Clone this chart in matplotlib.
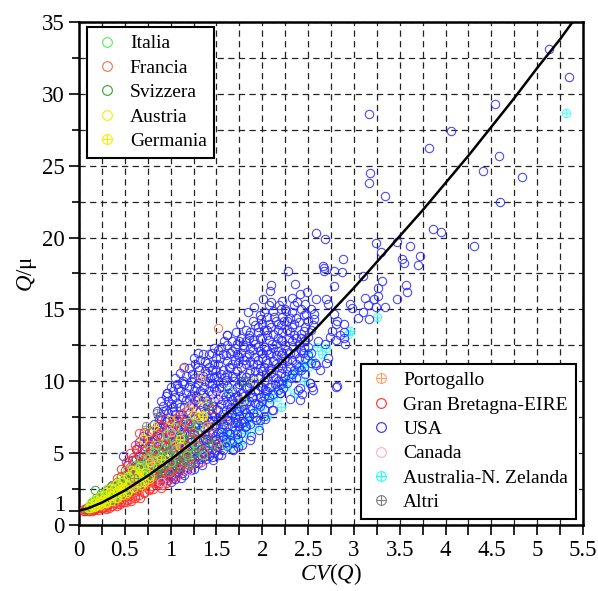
import matplotlib
matplotlib.use("Agg")
import matplotlib.pyplot as plt
from matplotlib.lines import Line2D
from matplotlib.ticker import MultipleLocator

plt.rcParams['font.family'] = ['Liberation Serif', 'DejaVu Serif']
plt.rcParams['mathtext.fontset'] = 'custom'
plt.rcParams['mathtext.rm'] = 'Liberation Serif'
plt.rcParams['mathtext.it'] = 'Liberation Serif:italic'

# ---- curva di riferimento ----
curve_cv = [0, 0.1, 0.25, 0.5, 0.75, 1.0, 1.25, 1.5, 1.75, 2.0, 2.25, 2.5, 2.75, 3.0,
            3.25, 3.5, 3.75, 4.0, 4.25, 4.5, 4.75, 5.0, 5.25, 5.5]
curve_q = [1.0, 1.16, 1.56, 2.4, 3.42, 4.56, 5.8, 7.1, 8.54, 10.0, 11.55, 13.1, 14.8, 16.5,
           18.3, 20.1, 21.9, 23.8, 25.7, 27.7, 29.7, 31.8, 33.8, 36.0]

# ---- punti per paese (CV, Q/mu) ----
usa = [(0.48,4.8),(0.52,4.2),(0.55,3.6),(0.58,4.5),(0.62,5.3),(0.6,3.2),(0.65,4.0),(0.66,5.8),
       (0.68,3.5),(0.7,4.8),(0.7,6.2),(0.72,5.5),(0.55,2.9),(0.63,2.7),
       (0.75,4.2),(0.76,6.5),(0.78,5.0),(0.8,3.6),(0.8,5.8),(0.82,7.0),(0.83,4.5),(0.85,6.2),
       (0.86,3.2),(0.87,5.3),(0.88,7.6),(0.9,4.0),(0.9,6.8),(0.92,8.3),(0.93,5.6),(0.94,3.5),
       (0.95,7.2),(0.96,9.2),(0.97,4.7),(0.98,6.3),
       (1.0,3.0),(1.0,5.2),(1.01,7.9),(1.02,8.8),(1.03,6.0),(1.04,4.2),(1.05,7.0),(1.06,3.6),
       (1.07,5.5),(1.08,9.5),(1.09,6.6),(1.1,4.8),(1.1,8.2),(1.11,3.3),(1.12,7.4),(1.13,5.9),
       (1.14,10.0),(1.15,4.4),(1.16,6.9),(1.17,8.7),(1.18,3.8),(1.19,5.2),(1.2,7.8),(1.2,9.6),
       (1.21,6.3),(1.22,4.6),
       (1.23,10.5),(1.24,8.2),(1.25,5.6),(1.26,3.9),(1.27,7.1),(1.28,9.0),(1.29,4.8),(1.3,6.4),
       (1.3,12.0),(1.31,10.8),(1.32,8.0),(1.33,5.3),(1.34,4.2),(1.35,7.4),(1.36,9.6),(1.37,6.0),
       (1.38,11.4),(1.39,4.6),(1.4,8.6),(1.41,6.8),(1.42,5.0),(1.43,10.2),(1.44,7.7),(1.45,9.1),
       (1.46,4.5),(1.47,12.3),(1.48,6.2),(1.49,8.1),(1.5,10.8),(1.51,5.4),(1.52,7.3),(1.53,9.5),
       (1.54,11.6),(1.55,4.9),(1.56,6.7),(1.57,8.7),(1.58,12.8),(1.59,10.3),(1.6,5.8),(1.61,13.2),
       (1.62,7.6),(1.63,9.2),(1.64,11.0),(1.65,6.3),(1.66,8.2),(1.67,12.1),(1.68,5.3),(1.69,10.0),
       (1.7,7.1),
       (1.71,13.4),(1.72,9.0),(1.73,6.0),(1.74,11.3),(1.75,7.9),(1.76,14.0),(1.77,10.4),(1.78,5.6),
       (1.79,12.5),(1.8,8.6),(1.81,6.8),(1.82,11.7),(1.83,9.6),(1.84,14.8),(1.85,7.5),(1.86,13.0),
       (1.87,10.8),(1.88,6.2),(1.89,8.9),(1.9,12.2),(1.91,15.2),(1.92,9.8),(1.93,7.3),(1.94,11.2),
       (1.95,13.8),
       (1.96,6.6),(1.97,8.3),(1.98,10.4),(1.99,14.3),(2.0,12.0),(2.01,15.7),(2.02,7.6),(2.03,9.4),
       (2.04,11.5),(2.05,13.2),(2.07,8.5),(2.08,16.3),(2.09,10.6),(2.1,16.7),(2.11,12.6),(2.12,8.0),
       (2.13,14.5),(2.14,9.8),(2.15,11.8),(2.17,13.6),(2.18,15.3),(2.19,9.2),(2.2,15.0),(2.21,10.9),
       (2.22,12.8),(2.23,9.5),(2.24,14.2),
       (2.26,14.9),(2.27,11.4),(2.28,17.7),(2.29,13.0),(2.3,8.8),(2.31,10.2),(2.32,15.8),(2.33,12.4),
       (2.35,14.0),(2.36,16.8),(2.38,15.5),(2.39,9.4),(2.4,11.0),(2.41,16.1),(2.41,8.7),(2.42,13.3),
       (2.44,12.0),(2.45,14.6),(2.47,10.5),(2.48,14.7),(2.49,16.2),(2.5,12.4),(2.52,9.9),(2.53,13.6),
       (2.55,13.9),(2.56,14.7),(2.57,14.3),(2.58,11.3),(2.59,15.7),(2.59,20.3),(2.59,11.1),
       (2.61,12.8),(2.63,10.8),(2.66,18.0),(2.67,17.7),(2.67,17.9),(2.68,19.9),(2.69,12.6),(2.7,15.7),
       (2.7,11.25),(2.72,15.4),(2.72,11.6),(2.74,13.1),(2.76,13.5),(2.78,16.6),(2.78,17.7),(2.78,14.7),
       (2.81,12.9),(2.81,14.0),(2.82,14.2),(2.82,9.7),(2.81,9.6),(2.85,13.2),(2.87,17.6),(2.88,18.5),
       (2.89,14.0),(2.89,13.4),(2.89,13.0),(2.9,12.6),(2.96,15.4),(2.98,15.1),(2.54,9.6),(2.55,9.4),
       (3.05,14.4),(3.1,14.8),(3.1,17.3),(3.12,15.8),(3.15,15.3),(3.16,14.3),(3.16,28.6),(3.17,23.8),
       (3.18,24.5),(3.22,15.7),(3.24,15.2),(3.24,19.6),(3.26,16.5),(3.26,15.9),(3.3,19.0),(3.31,17.0),
       (3.34,22.9),(3.34,15.2),(3.47,15.7),(3.47,19.7),(3.52,18.5),(3.55,18.2),(3.57,16.7),(3.58,16.2),
       (3.61,19.4),(3.7,18.1),(3.72,18.7),(3.82,26.2),(3.86,20.6),(3.95,20.4),(4.06,27.4),(4.31,19.4),
       (4.41,24.6),(4.54,29.3),(4.58,25.7),(4.59,22.5),(4.83,24.2),(5.13,33.1),(5.35,31.2),
       (1.61,13.2),(0.96,9.16),(2.52,9.86),(2.19,9.2),(2.11,8.0),(2.03,7.4),(1.87,5.9),(1.74,5.45),
       (1.68,5.2),(2.41,9.5),(2.43,9.1),
       (0.58,3.9),(0.62,4.6),(0.66,4.8),(0.69,5.3),(0.73,4.3),(0.74,6.0),(0.77,5.5),(0.79,6.4)]

# nucleo denso USA: colonne CV -> valori Q/mu
usa_core = [(0.82, [3.3, 4.9, 6.0]), (0.87, [2.9, 4.4, 6.6, 7.3]),
            (0.92, [3.4, 4.6, 5.2, 7.0, 7.9]), (0.97, [3.1, 4.1, 5.0, 6.0, 7.8, 8.6]),
            (1.03, [3.3, 4.5, 5.1, 6.5, 7.4, 8.2, 9.3]), (1.07, [3.9, 4.6, 6.1, 6.9, 8.5, 9.8]),
            (1.12, [3.6, 4.2, 5.4, 6.3, 7.0, 8.9, 9.9]), (1.17, [4.0, 4.9, 5.6, 7.3, 7.9, 9.2, 10.4]),
            (1.22, [3.8, 5.0, 5.8, 6.7, 8.4, 9.0, 10.0]),
            (1.27, [4.3, 5.2, 6.0, 6.8, 7.6, 8.7, 9.6, 11.2]),
            (1.32, [4.6, 5.6, 6.6, 7.3, 8.4, 9.3, 10.2, 11.5]),
            (1.37, [4.8, 5.4, 6.3, 7.8, 8.9, 10.0, 10.7]),
            (1.42, [4.8, 5.7, 6.5, 7.2, 8.0, 9.3, 9.9, 11.0, 11.9]),
            (1.47, [5.0, 5.9, 6.9, 7.6, 8.6, 9.5, 10.3, 11.2]),
            (1.52, [4.9, 5.7, 6.4, 8.0, 8.8, 10.0, 11.2, 12.2]),
            (1.57, [5.2, 6.2, 7.0, 7.7, 9.1, 9.9, 10.8, 11.9]),
            (1.62, [5.5, 6.5, 7.3, 8.4, 9.7, 10.5, 11.4, 12.5]),
            (1.67, [5.7, 6.9, 7.7, 8.7, 9.3, 10.4, 11.2, 12.8]),
            (1.72, [6.3, 7.2, 7.9, 8.5, 9.6, 10.7, 11.9, 12.6]),
            (1.77, [6.4, 7.1, 8.2, 9.2, 10.0, 11.0, 12.0, 13.0]),
            (1.82, [6.9, 7.8, 8.4, 9.5, 10.3, 11.2, 12.8, 13.6]),
            (1.87, [7.0, 8.1, 9.2, 9.9, 11.4, 12.3, 13.4]),
            (1.92, [7.5, 8.5, 9.3, 10.7, 11.7, 12.6, 13.9]),
            (1.97, [7.3, 8.9, 9.7, 10.9, 12.1, 13.0, 14.6]),
            (2.02, [8.1, 9.0, 10.0, 11.0, 12.4, 13.6, 14.8]),
            (2.07, [8.9, 9.6, 10.8, 11.9, 12.9, 14.0, 15.3]),
            (2.12, [9.1, 10.3, 11.4, 12.3, 13.3, 14.9]),
            (2.17, [9.4, 10.0, 11.0, 12.1, 13.0, 14.0]),
            (2.22, [10.0, 11.3, 12.0, 13.4, 14.5, 15.6]),
            (2.27, [9.9, 10.7, 12.2, 13.6, 14.2]),
            (2.32, [10.5, 11.5, 12.8, 13.8, 14.8]),
            (2.37, [10.2, 11.2, 12.0, 13.0, 14.4]),
            (2.42, [10.8, 12.2, 13.0, 15.0]),
            (2.47, [11.6, 12.9, 13.8, 15.4]),
            (2.53, [11.3, 12.0, 15.0])]
usa_core2 = [(0.85, [3.0, 5.5, 6.9, 7.9]), (0.9, [3.6, 5.1, 6.1, 7.3, 8.6]),
             (0.95, [3.3, 4.4, 5.4, 6.6, 8.0, 9.0]), (1.0, [3.4, 4.0, 6.2, 7.0, 8.4, 9.6]),
             (1.05, [3.2, 4.9, 5.8, 7.7, 8.9, 10.2]), (1.1, [3.9, 5.8, 7.7, 9.3, 10.6]),
             (1.15, [3.5, 5.3, 6.4, 8.2, 9.8, 11.0]), (1.2, [4.2, 5.5, 7.1, 8.8, 10.9]),
             (1.25, [4.6, 6.3, 7.4, 9.3, 10.2, 11.6]), (1.3, [4.3, 5.8, 7.0, 8.9, 9.9, 11.0]),
             (1.35, [5.0, 5.9, 6.8, 8.2, 9.2, 10.4, 11.9]),
             (1.4, [5.2, 6.0, 7.5, 8.4, 10.6, 11.3]),
             (1.45, [4.7, 6.4, 7.3, 8.3, 9.9, 10.8, 12.0]),
             (1.5, [5.2, 6.0, 7.0, 9.3, 10.4, 11.6]),
             (1.55, [5.6, 6.5, 7.4, 8.4, 9.6, 10.5, 12.4]),
             (1.6, [6.0, 6.9, 8.0, 9.0, 10.1, 11.8]), (1.65, [5.9, 7.3, 8.1, 9.0, 10.9, 12.0]),
             (1.7, [6.6, 7.5, 8.9, 10.3, 11.5, 12.3]), (1.75, [6.9, 7.6, 8.8, 9.8, 11.7, 12.8]),
             (1.8, [7.2, 8.1, 9.0, 10.0, 11.5, 12.4]), (1.85, [7.6, 8.6, 9.6, 10.6, 11.9, 13.2]),
             (1.9, [7.8, 8.9, 10.2, 11.2, 12.9, 14.2]), (1.95, [8.4, 9.4, 10.2, 11.5, 12.4, 13.4]),
             (2.0, [8.6, 9.6, 10.7, 11.6, 13.0, 14.0]), (2.05, [9.3, 10.3, 11.3, 12.2, 13.6, 14.5]),
             (2.1, [9.6, 10.9, 12.0, 13.8, 15.5]), (2.15, [10.2, 11.2, 12.6, 14.2]),
             (2.2, [9.8, 10.6, 11.8, 12.9, 13.9]), (2.25, [10.4, 11.6, 12.5, 15.0]),
             (2.3, [11.0, 12.0, 13.4, 14.4]), (2.35, [10.8, 11.9, 13.2, 15.3]),
             (2.4, [11.6, 12.6, 14.1]), (2.45, [11.0, 12.4, 13.5]), (2.5, [11.8, 13.1, 14.2])]

australia = [(1.15,4.5),(1.3,4.8),(1.45,5.3),(1.55,5.6),(1.62,6.2),(1.65,5.4),(1.7,6.8),
             (1.72,5.7),(1.76,5.7),(1.8,6.4),(1.85,7.2),(1.87,6.5),(1.9,7.8),(1.95,6.9),
             (2.0,8.3),(2.05,7.6),(2.1,8.8),(2.16,8.9),(2.2,8.2),(2.25,9.6),(2.3,10.3),(2.35,9.2),
             (2.4,10.8),(2.45,10.0),(2.54,11.5),(2.6,12.4),(2.65,11.9),(2.7,12.3),(2.94,13.3),
             (2.96,13.5),(3.25,14.5),(5.32,28.7),(1.4,6.0),(1.55,7.0),(1.75,8.0)]
australia_core = [(1.28, [5.0]), (1.38, [5.4]), (1.48, [5.9]), (1.58, [6.4]), (1.68, [6.2, 7.4]),
                  (1.78, [6.9]), (1.83, [7.6, 8.6]), (1.93, [8.1]), (2.03, [8.9]),
                  (2.13, [9.4]), (2.23, [9.9]), (2.33, [10.6]), (2.43, [11.2]), (2.5, [11.0, 12.0])]

gb = [(0.05,1.0),(0.07,1.05),(0.08,1.15),(0.1,0.95),(0.1,1.2),(0.12,1.1),(0.13,1.3),(0.14,1.0),
      (0.15,1.25),(0.16,1.45),(0.17,1.1),(0.18,1.35),(0.19,1.6),(0.2,1.2),(0.21,1.05),(0.22,1.5),
      (0.23,1.3),(0.24,1.75),(0.25,1.15),(0.26,1.45),(0.27,1.9),(0.28,1.25),(0.29,1.6),(0.3,1.1),
      (0.31,1.4),(0.32,2.1),(0.33,1.2),(0.34,1.75),(0.35,2.4),(0.36,1.35),(0.37,1.95),(0.38,2.7),
      (0.39,1.5),(0.4,2.2),(0.41,1.3),(0.42,3.0),(0.43,1.7),(0.44,2.5),(0.45,1.45),(0.46,3.4),
      (0.47,2.0),(0.48,2.8),(0.49,1.6),(0.5,3.8),(0.51,2.3),(0.52,1.75),(0.53,3.1),(0.54,4.2),
      (0.55,2.0),(0.56,2.7),(0.57,1.7),(0.58,3.5),(0.59,4.7),(0.6,2.3),
      (0.61,1.9),(0.62,3.0),(0.63,5.3),(0.64,3.8),(0.65,6.4),(0.66,2.5),(0.67,1.9),(0.68,4.4),
      (0.69,3.3),(0.7,5.7),(0.71,2.2),(0.72,2.8),(0.73,4.9),(0.74,3.6),(0.75,6.0),(0.76,2.4),
      (0.77,4.1),(0.78,3.1),(0.79,5.2),(0.8,2.7),(0.81,6.6),(0.82,3.7),(0.83,4.6),(0.84,2.9),
      (0.85,5.7),(0.86,3.4),(0.87,7.0),(0.88,4.3),(0.89,2.6),(0.9,5.0),
      (0.91,3.2),(0.92,6.1),(0.93,4.0),(0.94,7.4),(0.95,2.9),(0.96,5.4),(0.97,3.7),(0.98,6.7),
      (1.0,4.5),(1.01,3.3),(1.02,5.9),(1.04,7.1),(1.05,4.0),(1.07,6.3),(1.08,3.6),(1.1,5.1),
      (1.12,7.7),(1.13,4.4),(1.15,6.0),(1.17,3.9),(1.19,5.4),(1.21,7.0),(1.23,4.8),(1.25,6.4),
      (1.28,8.0),(1.3,5.6),(1.33,4.4),(1.35,7.3),(1.38,5.0),(1.4,6.2),(1.45,8.1),(1.5,5.5)]
gb_core = [(0.06, [0.95, 1.1]), (0.11, [1.0, 1.15, 1.35]), (0.16, [1.05, 1.2, 1.6]),
           (0.21, [1.15, 1.35, 1.8]), (0.26, [1.2, 1.55, 2.1]), (0.31, [1.25, 1.6, 1.9, 2.4]),
           (0.36, [1.5, 1.75, 2.2, 2.8]), (0.41, [1.45, 1.9, 2.4, 3.3]),
           (0.46, [1.6, 1.8, 2.6, 3.9]), (0.51, [1.6, 2.0, 2.7, 3.5, 4.4]),
           (0.56, [1.8, 2.3, 3.2, 4.0, 5.0]), (0.61, [2.0, 2.5, 3.5, 4.5, 5.6]),
           (0.66, [2.1, 2.8, 3.4, 4.9, 5.5]), (0.71, [2.3, 3.0, 4.0, 4.6, 6.5]),
           (0.76, [2.5, 3.3, 3.9, 5.0, 5.6]), (0.81, [2.5, 3.1, 4.2, 5.3, 6.0]),
           (0.86, [2.8, 3.9, 4.7, 6.3]), (0.91, [2.8, 3.6, 4.5, 5.6, 6.9]),
           (0.96, [3.1, 4.2, 5.0, 6.1]), (1.01, [3.9, 5.3, 6.6]), (1.06, [3.4, 4.6, 5.8, 7.4]),
           (1.11, [4.1, 5.6, 6.7]), (1.16, [4.6, 5.2, 7.2]), (1.21, [4.2, 6.0, 6.8])]

francia = [(0.3,1.5),(0.4,2.0),(0.45,2.6),(0.5,2.1),(0.55,3.3),(0.6,2.6),(0.65,3.5),(0.7,4.2),
           (0.72,3.0),(0.78,4.8),(0.8,3.4),(0.85,4.0),(0.9,5.5),(0.95,4.3),(1.0,6.0),(1.05,5.0),
           (1.1,6.8),(1.15,5.5),(1.2,4.6),(1.25,7.5),(1.3,6.3),(1.35,5.2),(1.4,8.5),(1.45,6.9),
           (1.5,5.8),(1.14,10.9),(1.52,13.7),(0.25,1.35),(0.35,1.8),(1.6,7.2)]
francia_core = [(0.38, [1.6, 2.3]), (0.48, [1.9, 3.0]), (0.58, [2.3, 3.9]), (0.68, [2.6, 4.6]),
                (0.76, [3.0, 5.6]), (0.88, [3.3, 6.2]), (0.98, [3.7, 6.9]), (1.08, [4.3, 7.6]),
                (1.18, [5.0, 8.0]), (1.28, [5.5, 8.8])]

svizzera = [(0.08,1.1),(0.12,1.25),(0.17,1.5),(0.175,2.4),(0.21,1.65),(0.25,1.9),(0.28,1.55),
            (0.32,2.2),(0.35,2.7),(0.38,2.05),(0.42,2.4),(0.45,2.9),(0.48,2.2),(0.52,3.0),
            (0.55,3.5),(0.58,2.5),(0.62,3.3),(0.66,3.9),(0.7,3.0),(0.75,3.5),(0.8,4.4),(0.85,3.6),
            (0.9,4.2),(0.95,5.0),(1.0,3.9),(1.05,4.7),(1.1,4.1),(1.15,5.0),(1.22,4.3),(1.3,5.3),
            (1.45,5.6),(1.2,5.9),(1.42,8.3),(1.8,10.0)]
svizzera_core = [(0.14, [1.35, 1.6]), (0.19, [1.45, 1.9]), (0.24, [1.6, 2.2]), (0.3, [1.8, 2.0]),
                 (0.37, [1.8, 2.4]), (0.43, [2.2, 2.7]), (0.5, [2.4, 3.3]), (0.57, [2.9, 3.2]),
                 (0.64, [2.8, 4.1]), (0.72, [3.3, 4.0]), (0.82, [3.6, 4.7]), (0.92, [3.8, 5.2]),
                 (1.02, [4.4, 5.6]), (1.12, [4.8, 6.1]), (1.25, [5.1, 6.6]), (1.4, [5.9, 6.9])]

italia = [(0.1,1.2),(0.15,1.4),(0.2,1.8),(0.22,1.5),(0.27,2.0),(0.3,1.7),(0.33,2.3),(0.36,1.9),
          (0.4,2.6),(0.43,2.1),(0.46,3.0),(0.5,2.5),(0.53,3.3),(0.56,2.8),(0.6,3.7),(0.63,3.0),
          (0.67,4.2),(0.7,3.4),(0.74,4.6),(0.78,3.8),(0.82,5.1),(0.86,4.2),(0.9,4.8),(0.95,5.8),
          (1.0,4.4),(1.05,5.3),(1.1,6.2),(1.18,4.9),(1.25,5.7),(1.35,4.9),(1.63,9.4),(1.6,5.6),
          (1.3,6.9)]
italia_core = [(0.13, [1.15, 1.5]), (0.18, [1.3, 1.7]), (0.25, [1.55, 2.1]), (0.31, [2.0, 2.5]),
               (0.38, [2.3, 2.8]), (0.45, [2.4, 3.3]), (0.52, [2.7, 3.8]), (0.6, [3.2, 4.2]),
               (0.68, [3.6, 4.6]), (0.76, [4.0, 5.2]), (0.85, [4.5, 5.6]), (0.95, [4.9, 6.3]),
               (1.05, [5.7, 6.8]), (1.2, [5.4, 7.2])]

austria = [(0.1,1.15),(0.13,1.3),(0.16,1.25),(0.18,1.55),(0.2,1.4),(0.22,1.7),(0.24,1.45),
           (0.26,1.8),(0.28,2.1),(0.3,1.6),(0.32,1.9),(0.34,2.3),(0.36,2.0),(0.38,2.5),(0.4,1.85),
           (0.42,2.2),(0.44,2.7),(0.46,2.3),(0.48,3.2),(0.5,2.6),(0.52,2.2),(0.55,3.0),(0.58,3.8),
           (0.6,2.9),(0.64,3.4),(0.68,2.8),(0.72,3.7),(0.76,3.2),(0.8,4.1),(0.7,6.0),(0.75,6.5),
           (1.0,5.0),(1.1,5.5),(1.3,7.6),(1.92,10.0),(1.34,8.8),(1.25,7.65),(1.35,7.65),
           (1.78,8.7),(0.99,7.3)]
austria_core = [(0.12, [1.2, 1.4]), (0.17, [1.3, 1.6, 1.8]), (0.23, [1.4, 1.6, 2.0]),
                (0.29, [1.55, 1.8, 2.3]), (0.35, [1.7, 2.1, 2.6]), (0.41, [1.9, 2.35, 2.9]),
                (0.47, [2.1, 2.55, 3.0]), (0.53, [2.35, 2.8, 3.4]), (0.59, [2.6, 3.1, 3.6]),
                (0.65, [2.9, 3.3, 4.0]), (0.71, [3.0, 3.5]), (0.78, [3.4, 4.4])]

germania = [(0.25,1.7),(0.45,2.5),(0.65,3.6),(0.82,6.9),(0.9,4.6),(1.1,6.0),(1.35,7.6)]
portogallo = [(1.33,10.3),(0.6,2.8),(0.8,4.5),(1.05,5.6),(1.4,6.9),(1.2,8.2)]
canada = [(0.4,2.0),(0.7,4.0),(1.0,6.5),(1.2,3.8),(1.5,9.0),(0.9,3.0)]
altri = [(0.73,6.9),(0.855,7.8),(0.6,3.3),(1.0,5.3),(1.2,4.2)]


def expand(cols):
    return [(cv, q) for cv, qs in cols for q in qs]


fig = plt.figure(figsize=(5.98, 5.91), dpi=100)
ax = fig.add_axes([0.1321, 0.1117, 0.8428, 0.8511])

ms = 6.0
mew = 0.8


def plot_group(pts, color, crossed=False, z=2, alpha=0.85):
    xs, ys = zip(*pts)
    ax.plot(xs, ys, 'o', ms=ms, mfc='none', mec=color, mew=mew, alpha=alpha, zorder=z)
    if crossed:
        ax.plot(xs, ys, '+', ms=ms, mec=color, mew=mew, alpha=alpha, zorder=z)


plot_group(australia + expand(australia_core), '#22ffff', crossed=True, z=1.5, alpha=0.8)
plot_group(usa + expand(usa_core) + expand(usa_core2), '#2a2aff', z=2)
plot_group(gb + expand(gb_core), '#ff2a2a', z=4)
plot_group(francia + expand(francia_core), '#e8734f', z=4)
plot_group(canada, '#ffaacc', z=4)
plot_group(svizzera + expand(svizzera_core), '#33a033', z=5)
plot_group(italia + expand(italia_core), '#55ee55', z=5)
plot_group(austria + expand(austria_core), '#f0f000', z=5)
plot_group(germania, '#f0f000', crossed=True, z=5)
plot_group(portogallo, '#ffa060', crossed=True, z=5)
plot_group(altri, '#808080', crossed=True, z=5)

ax.plot(curve_cv, curve_q, color='black', lw=1.8, zorder=10)

ax.set_xlim(0, 5.5)
ax.set_ylim(0, 35)
ax.set_xticks([0, 0.5, 1, 1.5, 2, 2.5, 3, 3.5, 4, 4.5, 5, 5.5])
ax.set_xticklabels(['0', '0.5', '1', '1.5', '2', '2.5', '3', '3.5', '4', '4.5', '5', '5.5'])
ax.xaxis.set_minor_locator(MultipleLocator(0.25))
ax.set_yticks([0, 1, 5, 10, 15, 20, 25, 30, 35])
ax.set_yticklabels(['0', '', '5', '10', '15', '20', '25', '30', '35'])
ax.yaxis.set_minor_locator(MultipleLocator(2.5))

ax.grid(True, which='both', color='#222222', linestyle=(0, (5, 3.5)), linewidth=0.9)
ax.set_axisbelow(True)
ax.yaxis.get_major_ticks()[1].gridline.set_visible(False)

ax.tick_params(which='both', direction='out', length=7, width=1.2, labelsize=16.5)
ax.tick_params(axis='y', which='minor', length=5)
for s in ax.spines.values():
    s.set_linewidth(1.8)

# etichetta "1" spostata appena sopra lo "0"
ax.annotate('1', xy=(0, 1), xycoords=('axes fraction', 'data'), xytext=(-10, 4),
            textcoords='offset points', ha='right', va='center', fontsize=16.5)

ax.set_xlabel('$CV(Q)$', fontsize=16.5, labelpad=0)
ax.set_ylabel('$Q$/μ', fontsize=16.5, labelpad=2)


def handle(color, crossed=False):
    c = Line2D([], [], marker='o', ls='none', ms=ms + 1, mfc='none', mec=color, mew=mew)
    if crossed:
        p = Line2D([], [], marker='+', ls='none', ms=ms + 1, mec=color, mew=mew)
        return (c, p)
    return c


leg_kw = dict(fontsize=14, frameon=True, fancybox=False, edgecolor='black', framealpha=1,
              labelspacing=0.35, handletextpad=0.5, borderpad=0.4, handlelength=1.3,
              borderaxespad=0)

h1 = [handle('#55ee55'), handle('#e8734f'), handle('#33a033'), handle('#f0f000'),
      handle('#f0f000', True)]
l1 = ['Italia', 'Francia', 'Svizzera', 'Austria', 'Germania']
leg1 = ax.legend(h1, l1, loc='upper left', bbox_to_anchor=(0.016, 0.99), **leg_kw)
leg1.get_frame().set_linewidth(1.5)
leg1.set_zorder(20)
ax.add_artist(leg1)

h2 = [handle('#ffa060', True), handle('#ff2a2a'), handle('#2a2aff'), handle('#ffaacc'),
      handle('#22ffff', True), handle('#808080', True)]
l2 = ['Portogallo', 'Gran Bretagna-EIRE', 'USA', 'Canada', 'Australia-N. Zelanda', 'Altri']
leg2 = ax.legend(h2, l2, loc='lower right', bbox_to_anchor=(0.986, 0.012), **leg_kw)
leg2.get_frame().set_linewidth(1.5)
leg2.set_zorder(20)

fig.savefig('out.png', dpi=100)
